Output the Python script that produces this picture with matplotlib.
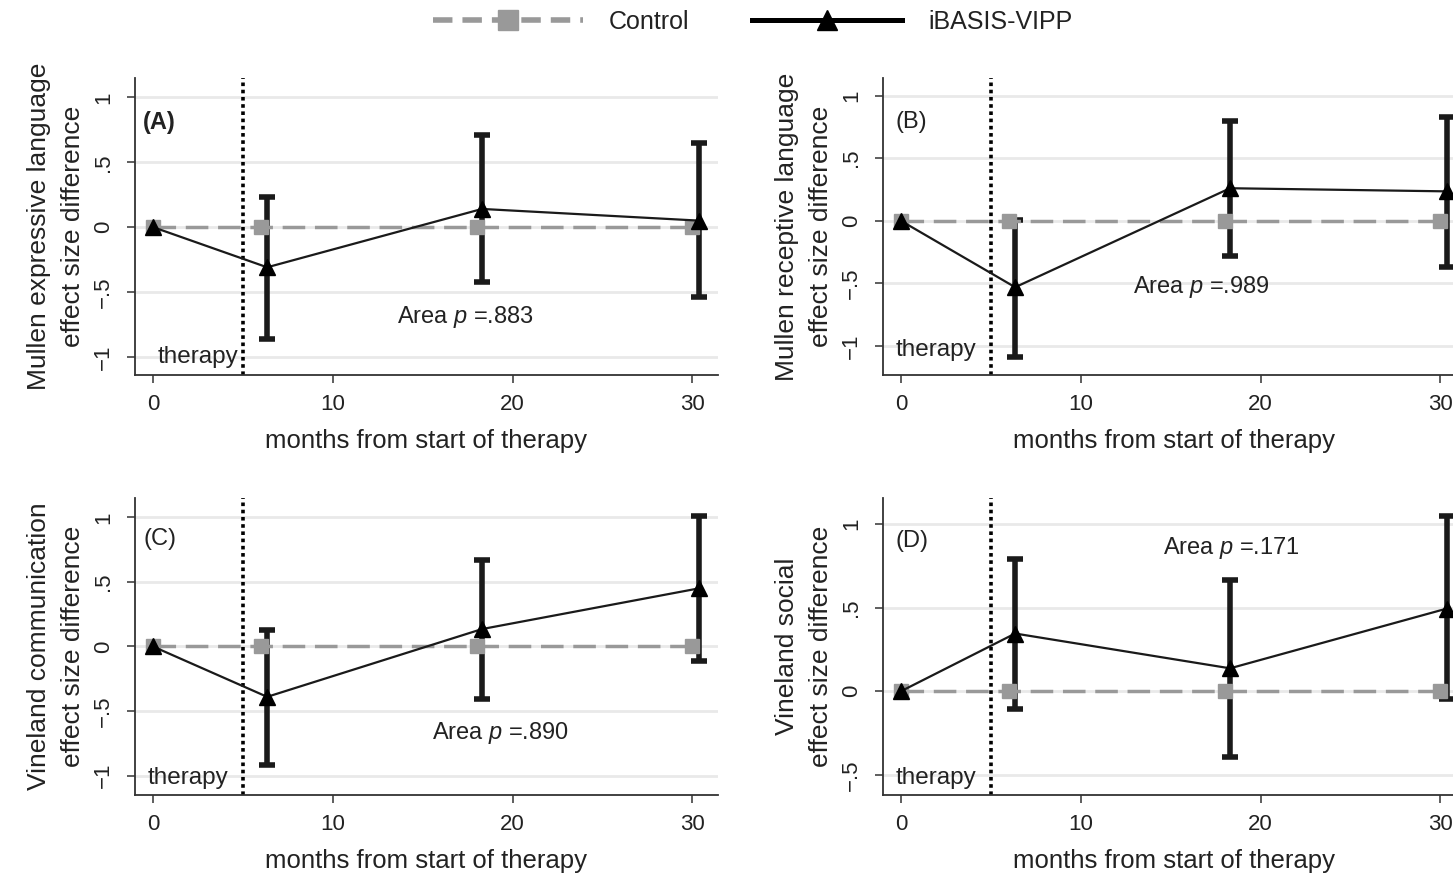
import matplotlib

matplotlib.use("Agg")
import matplotlib.pyplot as plt
from matplotlib.lines import Line2D

plt.rcParams["font.family"] = ["Liberation Sans", "DejaVu Sans"]
plt.rcParams["mathtext.fontset"] = "custom"
plt.rcParams["mathtext.it"] = "Liberation Sans:italic"
plt.rcParams["mathtext.rm"] = "Liberation Sans"
plt.rcParams["axes.unicode_minus"] = True

# --- data ---
months_ctrl = [0, 6, 18, 30]
months_ib = [0, 6.35, 18.3, 30.35]
ctrl = [0, 0, 0, 0]

panels = ["(A)", "(B)", "(C)", "(D)"]
ylabels = ["Mullen expressive language\neffect size difference",
           "Mullen receptive language\neffect size difference",
           "Vineland communication\neffect size difference",
           "Vineland social\neffect size difference"]
area_p = ["Area $p$ =.883", "Area $p$ =.989", "Area $p$ =.890", "Area $p$ =.171"]

ib_A = [0, -0.31, 0.14, 0.05]
lo_A = [0, -0.86, -0.42, -0.54]
hi_A = [0, 0.23, 0.71, 0.65]

ib_B = [0, -0.53, 0.26, 0.235]
lo_B = [0, -1.085, -0.28, -0.37]
hi_B = [0, 0.01, 0.80, 0.83]

ib_C = [0, -0.39, 0.135, 0.45]
lo_C = [0, -0.915, -0.41, -0.11]
hi_C = [0, 0.125, 0.67, 1.01]

ib_D = [0, 0.345, 0.137, 0.494]
lo_D = [0, -0.105, -0.395, -0.046]
hi_D = [0, 0.79, 0.665, 1.046]

series = [(ib_A, lo_A, hi_A), (ib_B, lo_B, hi_B), (ib_C, lo_C, hi_C), (ib_D, lo_D, hi_D)]
yticks = [[-1, -0.5, 0, 0.5, 1]] * 3 + [[-0.5, 0, 0.5, 1]]
ylims = [(-1.14, 1.15), (-1.23, 1.14), (-1.15, 1.15), (-0.62, 1.155)]

# layout / annotation positions (data coords)
rects = [[0.0929, 0.572, 0.401, 0.339], [0.6077, 0.572, 0.401, 0.339],
         [0.0929, 0.0925, 0.401, 0.339], [0.6077, 0.0925, 0.401, 0.339]]
lab_pos = [(-0.55, 0.81), (-0.3, 0.79), (-0.55, 0.83), (-0.3, 0.9)]
ther_pos = [(4.75, -1.0), (4.2, -1.03), (4.2, -1.02), (4.2, -0.52)]
area_pos = [(17.4, -0.69), (16.7, -0.53), (19.3, -0.67), (18.4, 0.857)]

GRAY = "#999999"
INK = "#222222"


def tick_fmt(v):
    if v == 0:
        return "0"
    s = ("%g" % abs(v)).replace("0.", ".")
    return ("\u2212" if v < 0 else "") + s


fig = plt.figure(figsize=(14.53, 8.76), dpi=100)

for i in range(4):
    ax = fig.add_axes(rects[i])
    ib, lo, hi = series[i]
    err = [[m - l for m, l in zip(ib, lo)], [h - m for m, h in zip(ib, hi)]]

    for yt in yticks[i]:
        ax.axhline(yt, color="#e9e9e9", lw=2, zorder=0)
    ax.axvline(5, color="black", ls=(0, (1, 1)), lw=2.6, zorder=1)

    ax.errorbar(months_ib[1:], ib[1:], yerr=[err[0][1:], err[1][1:]], fmt="none",
                ecolor="#1a1a1a", elinewidth=4, capsize=6, capthick=4, zorder=2)
    ax.plot(months_ctrl, ctrl, color=GRAY, lw=2.5, ls=(0, (6.5, 2.8)),
            marker="s", ms=10, mfc=GRAY, mec=GRAY, zorder=3)
    ax.plot(months_ib, ib, color="#1a1a1a", lw=1.6, marker="^", ms=11,
            mfc="black", mec="black", zorder=4)

    ax.set_xlim(-1.0, 31.4)
    ax.set_ylim(*ylims[i])
    ax.set_xticks([0, 10, 20, 30])
    ax.set_yticks(yticks[i])
    ax.set_yticklabels([tick_fmt(v) for v in yticks[i]], rotation=90, va="center")
    ax.tick_params(labelsize=16, length=6, color="#333333", width=1.1, labelcolor=INK)
    ax.tick_params(axis="x", pad=8)
    ax.tick_params(axis="y", pad=9)
    for s in ["top", "right"]:
        ax.spines[s].set_visible(False)
    for s in ["left", "bottom"]:
        ax.spines[s].set_color("#333333")
        ax.spines[s].set_linewidth(1.3)

    ax.set_xlabel("months from start of therapy", fontsize=18.5, color=INK, labelpad=10)
    ax.set_ylabel(ylabels[i], fontsize=19, color=INK, labelpad=6, linespacing=1.5)

    ax.text(lab_pos[i][0], lab_pos[i][1], panels[i], fontsize=17, va="center", ha="left",
            fontweight="bold" if i == 0 else "normal", color=INK)
    ax.text(ther_pos[i][0], ther_pos[i][1], "therapy", fontsize=17.5, va="center", ha="right",
            color=INK)
    ax.text(area_pos[i][0], area_pos[i][1], area_p[i], fontsize=17, va="center", ha="center",
            color=INK)

handles = [Line2D([], [], color=GRAY, lw=4, ls=(0, (3.5, 1.8)), marker="s", ms=14,
                  mfc=GRAY, mec=GRAY),
           Line2D([], [], color="black", lw=3.6, marker="^", ms=15, mfc="black", mec="black")]
fig.legend(handles, ["Control", "iBASIS-VIPP"], loc="center", bbox_to_anchor=(0.518, 0.975),
           ncol=2, frameon=False, fontsize=18, handlelength=6, columnspacing=2.5,
           handletextpad=1.05, labelcolor=INK)

fig.savefig("out.png", dpi=100)
